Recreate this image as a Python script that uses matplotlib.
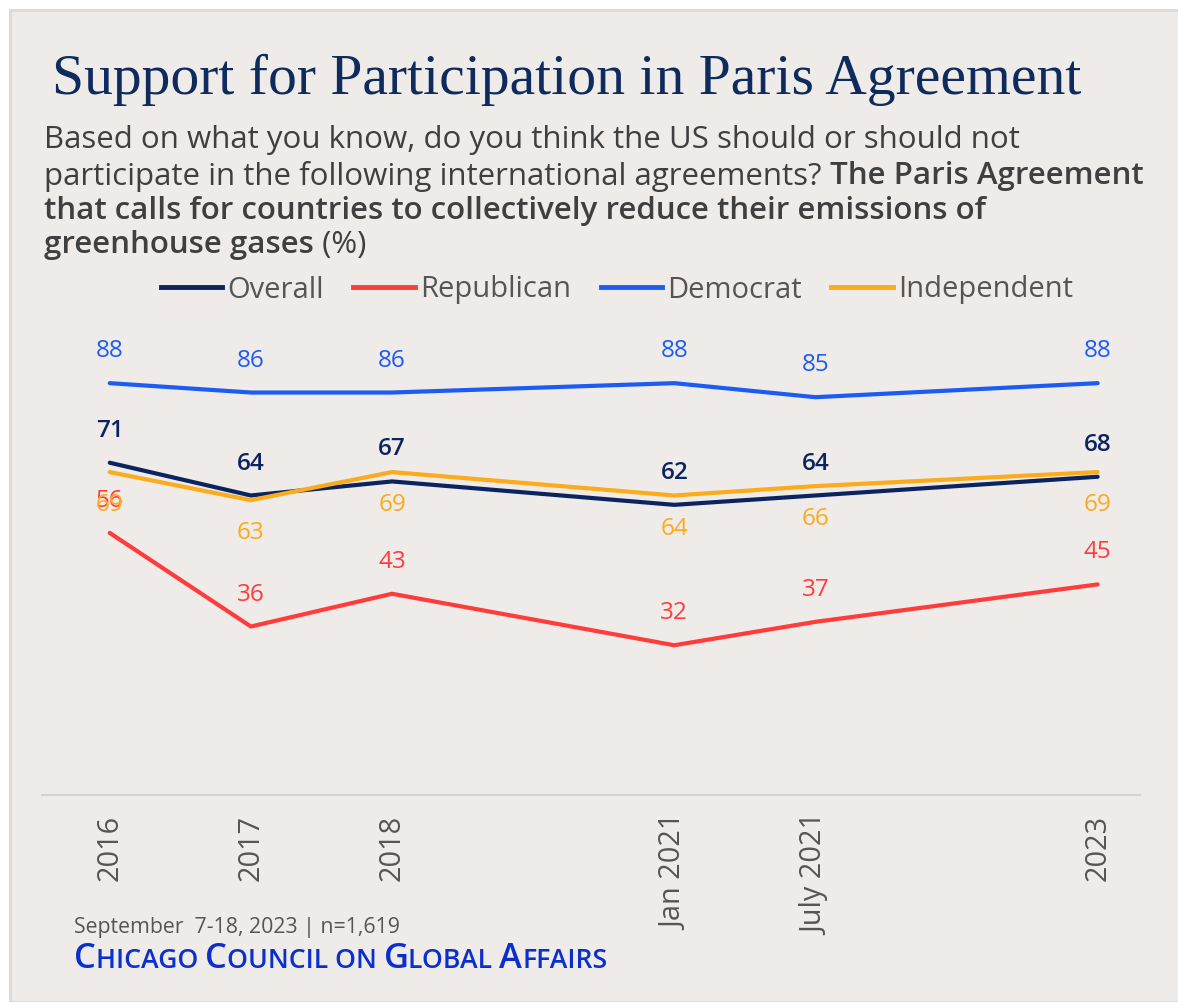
import matplotlib.pyplot as plt
from matplotlib.patches import Rectangle
from matplotlib.lines import Line2D

# Data
periods = ['2016', '2017', '2018', 'Jan 2021', 'July 2021', '2023']
x_pos = [0, 1, 2, 4, 5, 7]  # spacing roughly follows time
overall = [71, 64, 67, 62, 64, 68]
republican = [56, 36, 43, 32, 37, 45]
democrat = [88, 86, 86, 88, 85, 88]
independent = [69, 63, 69, 64, 66, 69]

series_names = ['Overall', 'Republican', 'Democrat', 'Independent']
colors = ['#0b2460', '#ff3c3c', '#1c5cf2', '#fbab1c']

BG = '#efebe8'
GRAY = '#555555'

plt.rcParams['font.family'] = ['Open Sans', 'DejaVu Sans']

fig = plt.figure(figsize=(11.78, 10.02), dpi=100)
fig.patch.set_facecolor('white')
# card background with light border on top / left
fig.patches.append(Rectangle((10 / 1178, 0), 1.0, 1 - 10 / 1002, transform=fig.transFigure,
                             facecolor=BG, edgecolor='#d9d9d9', linewidth=2, zorder=-5))

ax = fig.add_axes([42 / 1178, 1 - 795 / 1002, 1098 / 1178, 468 / 1002])
ax.set_facecolor('none')
ax.set_xlim(-0.48, 7.30)
ax.set_ylim(0, 100)
for s in ['top', 'right', 'left']:
    ax.spines[s].set_visible(False)
ax.spines['bottom'].set_color('#d6d2cf')
ax.spines['bottom'].set_linewidth(1.5)
ax.set_yticks([])
ax.set_xticks(x_pos)
ax.set_xticklabels(periods, rotation=90, fontsize=20.8, color=GRAY)
ax.tick_params(axis='x', length=0, pad=14)

all_series = [overall, republican, democrat, independent]
offsets = [23, 23, 23, -24]
for vals, col, name, off in zip(all_series, colors, series_names, offsets):
    ax.plot(x_pos, vals, color=col, linewidth=3, solid_capstyle='round', label=name, zorder=3)
    for xv, v in zip(x_pos, vals):
        ax.annotate(str(v), (xv, v), xytext=(0, off), textcoords='offset points',
                    ha='center', va='center', fontsize=17.5, color=col,
                    fontweight='semibold' if name == 'Overall' else 'normal')

# legend
handles = [Line2D([], [], color=c, linewidth=3.5) for c in colors]
fig.legend(handles, series_names, loc='center', bbox_to_anchor=(617 / 1178, 1 - 290 / 1002),
           ncol=4, frameon=False, fontsize=21, handlelength=2.1, handletextpad=0.2,
           columnspacing=1.0, labelcolor=GRAY)

# title
fig.text(52 / 1178, 1 - 80 / 1002, 'Support for Participation in Paris Agreement',
         family='Liberation Serif', fontsize=41.5, color='#0d2b5c', va='center')

# subtitle with bold part, drawn piece by piece
fig.canvas.draw()
renderer = fig.canvas.get_renderer()
sub_fs = 22.5
x0 = 44 / 1178
line_y = [1 - 140 / 1002, 1 - 176 / 1002, 1 - 211 / 1002, 1 - 245 / 1002]
pieces = [
    [('Based on what you know, do you think the US should or should not', 'normal')],
    [('participate in the following international agreements? ', 'normal'),
     ('The Paris Agreement', 'bold')],
    [('that calls for countries to collectively reduce their emissions of', 'bold')],
    [('greenhouse gases', 'bold'), (' (%)', 'normal')],
]
for yy, parts in zip(line_y, pieces):
    xx = x0
    for txt, wt in parts:
        t = fig.text(xx, yy, txt, fontsize=sub_fs, color='#3f3f3f', va='center',
                     fontweight='semibold' if wt == 'bold' else 'normal')
        bb = t.get_window_extent(renderer=renderer)
        xx += bb.width / fig.bbox.width

# footer
fig.text(74 / 1178, 1 - 928 / 1002, 'September  7-18, 2023 | n=1,619', fontsize=15.3, color=GRAY,
         va='center')
xx = 74 / 1178
for txt, fs in [('C', 24.8), ('HICAGO ', 19.2), ('C', 24.8), ('OUNCIL ON ', 19.2), ('G', 24.8),
                ('LOBAL ', 19.2), ('A', 24.8), ('FFAIRS', 19.2)]:
    t = fig.text(xx, 1 - 968 / 1002, txt, fontsize=fs, color='#0a2fcc', va='baseline',
                 fontweight='semibold')
    bb = t.get_window_extent(renderer=renderer)
    xx += bb.width / fig.bbox.width

fig.savefig('out.png', dpi=100, facecolor=fig.get_facecolor())
